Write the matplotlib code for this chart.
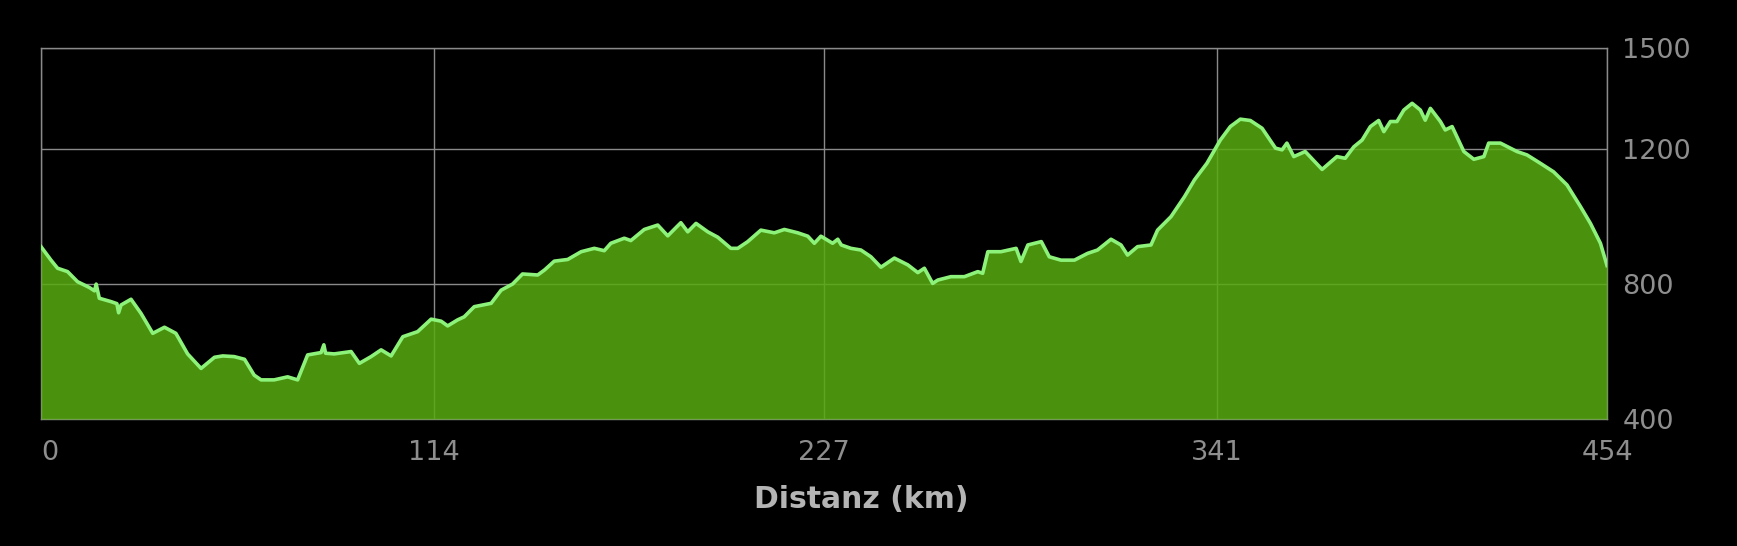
import matplotlib
matplotlib.use("Agg")
import matplotlib.pyplot as plt
import numpy as np

distance_km = [
    0.0, 2.9, 4.8, 7.7, 10.6, 14.0, 15.5, 16.0, 16.9, 20.3, 22.0, 22.5, 23.2, 26.1, 29.0, 32.4,
    35.8, 39.1, 42.5, 46.4, 50.3, 52.7, 56.0, 59.0, 61.8, 63.8, 67.6, 71.5,
    74.4, 77.3, 81.2, 82.0, 82.5, 85.0, 89.9, 92.3, 95.7, 98.6, 101.5, 104.9, 109.2,
    113.1, 116.0, 117.9, 120.8, 122.7, 125.6, 130.5, 133.4, 136.7, 139.6,
    144.0, 146.0, 148.8, 152.7, 156.6, 160.4, 163.3, 165.2, 169.1, 171.0,
    174.9, 178.8, 181.7, 185.5, 187.5, 189.9, 193.3, 196.2, 200.0, 202.0,
    204.9, 208.7, 212.6, 215.5, 219.4, 222.3, 224.2, 226.1, 229.5, 231.0,
    232.0, 234.8, 237.7, 240.6, 243.5, 247.4, 251.3, 254.2, 256.1, 258.5,
    260.0, 263.8, 267.7, 271.6, 273.0, 274.5, 278.3, 282.7, 284.1, 286.1,
    290.0, 292.3, 295.7, 299.6, 303.4, 306.3, 310.2, 313.1, 315.0, 317.9,
    321.8, 323.7, 327.6, 331.5, 334.4, 338.0, 341.9, 344.8, 347.7, 350.6,
    354.0, 357.9, 359.8, 361.2, 363.2, 366.5, 371.4, 375.7, 378.1, 380.6,
    383.0, 385.4, 387.8, 389.3, 391.2, 393.1, 395.1, 397.5, 399.9, 401.3,
    402.8, 405.7, 407.1, 409.1, 412.5, 415.4, 418.3, 419.7, 423.1, 425.0,
    427.9, 430.8, 434.7, 438.5, 442.4, 446.3, 449.2, 452.1, 454.0,
]
elevation_m = [
    911, 871, 847, 837, 807, 790, 780, 800, 758, 748, 742, 715, 738, 755, 713, 654,
    672, 654, 593, 550, 583, 587, 585, 577, 530, 516, 516, 525,
    516, 590, 597, 620, 595, 593, 600, 565, 585, 605, 587, 644, 659,
    696, 690, 676, 694, 703, 733, 743, 782, 800, 830,
    827, 842, 868, 873, 896, 906, 899, 921, 936, 929,
    962, 975, 943, 982, 955, 980, 955, 939, 906, 906,
    926, 960, 952, 962, 952, 942, 921, 942, 921, 933,
    916, 906, 901, 881, 850, 877, 857, 834, 847, 802,
    812, 822, 822, 837, 832, 896, 896, 906, 867, 916,
    926, 881, 871, 871, 891, 901, 933, 916, 886, 911,
    916, 960, 1000, 1059, 1109, 1158, 1227, 1267, 1289, 1285,
    1262, 1203, 1198, 1218, 1178, 1193, 1140, 1178, 1173, 1207,
    1227, 1267, 1285, 1252, 1282, 1282, 1316, 1336, 1316, 1286,
    1321, 1282, 1257, 1267, 1193, 1170, 1178, 1218, 1218, 1208,
    1193, 1183, 1158, 1133, 1094, 1030, 980, 921, 855,
]

x_ticks = [0, 114, 227, 341, 454]
x_tick_labels = ["0", "114", "227", "341", "454"]
y_ticks = [400, 800, 1200, 1500]
y_tick_labels = ["400", "800", "1200", "1500"]
x_label = "Distanz (km)"

W, H = 1737, 546
fig = plt.figure(figsize=(W / 100, H / 100), dpi=100, facecolor="black")
ax = fig.add_axes([41 / W, 1 - 419 / H, (1607 - 41) / W, (419 - 48) / H])
ax.set_facecolor("black")

ax.set_xlim(0, 454)
ax.set_ylim(400, 1500)

grid_color = "#8a8a8a"
ax.set_axisbelow(True)
ax.grid(True, color=grid_color, linewidth=1.0, zorder=0.5)
for s in ax.spines.values():
    s.set_color(grid_color)
    s.set_linewidth(1.0)
    s.set_zorder(2)

ax.fill_between(distance_km, elevation_m, 400, color="#58ab10", alpha=0.85,
                linewidth=0, zorder=3)
ax.plot(distance_km, elevation_m, color="#8df27a", linewidth=2.6, zorder=4,
        solid_joinstyle="round")

ax.set_xticks(x_ticks)
ax.set_xticklabels(x_tick_labels)
ax.yaxis.tick_right()
ax.set_yticks(y_ticks)
ax.set_yticklabels(y_tick_labels)

ax.tick_params(axis="x", length=0, pad=15, labelsize=19.5, labelcolor="#8e8e8e")
ax.tick_params(axis="y", length=0, pad=11, labelsize=19.5, labelcolor="#8e8e8e")
ax.get_xticklabels()[0].set_ha("left")

fig.text(861 / W, 1 - 500 / H, x_label, ha="center", va="center",
         fontsize=21.5, fontweight="bold", color="#b4b4b4")

fig.savefig("out.png", dpi=100, facecolor="black")
